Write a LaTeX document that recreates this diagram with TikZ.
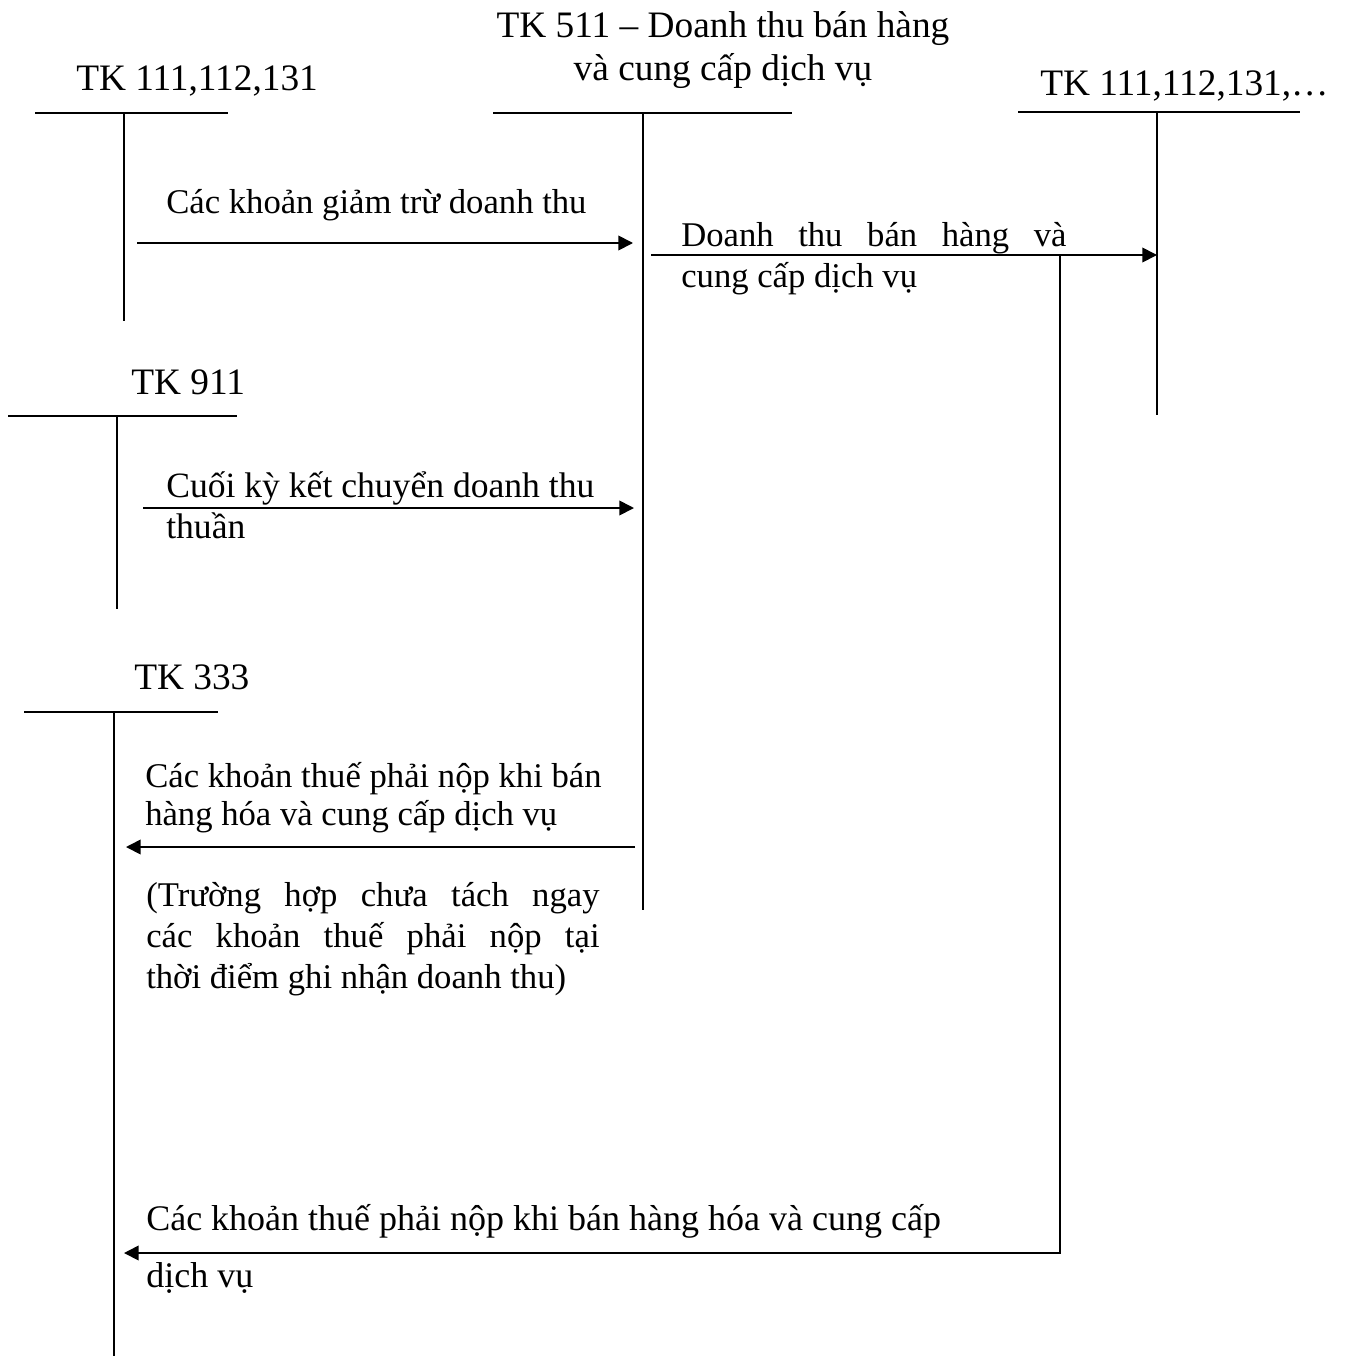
\documentclass[tikz,border=0pt]{standalone}
\usepackage{fontspec}
\setmainfont{Liberation Serif}
\usetikzlibrary{arrows.meta}
\newcommand{\jline}[2]{\makebox[#1][s]{#2}}

\begin{document}
\begin{tikzpicture}[
  x=0.75pt, y=-0.75pt,
  every node/.style={font=\fontsize{26}{30.5}\selectfont, inner sep=0pt},
  lbl/.style={anchor=base west, align=left},
  ttl/.style={font=\fontsize{28}{32}\selectfont},
  tk/.style={line width=1.3pt},
  arrow/.style={-{Triangle[length=11pt, width=11pt]}, line width=1.3pt}
]
  \useasboundingbox (0,0) rectangle (1345,1356);

  % T accounts: name / x / top / left / right / bottom
  \foreach \n/\x/\y/\l/\r/\b in {a111/124/113/35/228/321, a511/643/113/493/792/910, acash/1157/112/1018/1300/415, a911/117/416/8/237/609, a333/114/712/24/218/1356} {
    \coordinate (\n) at (\x,\y);
    \draw[tk] (\l,\y) -- (\r,\y);
    \draw[tk] (\n) -- (\x,\b);
  }

  % account titles (multi-line nodes sit on their last baseline)
  \node[lbl, ttl] (t111) at (76,90) {TK 111,112,131};
  \node[ttl, align=center, anchor=base] (t511) at (723,80) {TK 511 – Doanh thu bán hàng\\ và cung cấp dịch vụ};
  \node[lbl, ttl] (tcash) at (1040,95) {TK 111,112,131,…};
  \node[lbl, ttl] (t911) at (131,394) {TK 911};
  \node[lbl, ttl] (t333) at (134,689) {TK 333};

  % entries
  \node[lbl] (giam) at (166,213) {Các khoản giảm trừ doanh thu};
  \node[lbl] (dthu) at (681,287) {\jline{289pt}{Doanh thu bán hàng và}\\ cung cấp dịch vụ};
  \node[lbl, font=\fontsize{26.7}{30.5}\selectfont] (kchuyen) at (166,538) {Cuối kỳ kết chuyển doanh thu\\ thuần};
  \node[lbl] (thue) at (145,825) {Các khoản thuế phải nộp khi bán\\[-2pt] hàng hóa và cung cấp dịch vụ};
  \node[lbl] (ghichu) at (146,988) {\jline{340pt}{(Trường hợp chưa tách ngay}\\ \jline{340pt}{các khoản thuế phải nộp tại}\\ thời điểm ghi nhận doanh thu)};
  \node[lbl, font=\fontsize{27}{31.5}\selectfont] (thue2) at (146,1287) {Các khoản thuế phải nộp khi bán hàng hóa và cung cấp\\[11pt] dịch vụ};

  \coordinate (giamA) at (137,243);  \coordinate (giamB) at (633,243);
  \coordinate (dthuA) at (651,255);  \coordinate (dthuB) at (1157,255);
  \coordinate (kcA) at (143,508);    \coordinate (kcB) at (634,508);
  \coordinate (thueA) at (635,847);  \coordinate (thueB) at (126,847);
  \coordinate (thue2A) at (1060,255); \coordinate (thue2B) at (124,1253);

  \draw[arrow] (giamA) -- (giamB);
  \draw[arrow] (dthuA) -- (dthuB);
  \draw[arrow] (kcA) -- (kcB);
  \draw[arrow] (thueA) -- (thueB);
  \draw[arrow] (thue2A) |- (thue2B);

\end{tikzpicture}
\end{document}
